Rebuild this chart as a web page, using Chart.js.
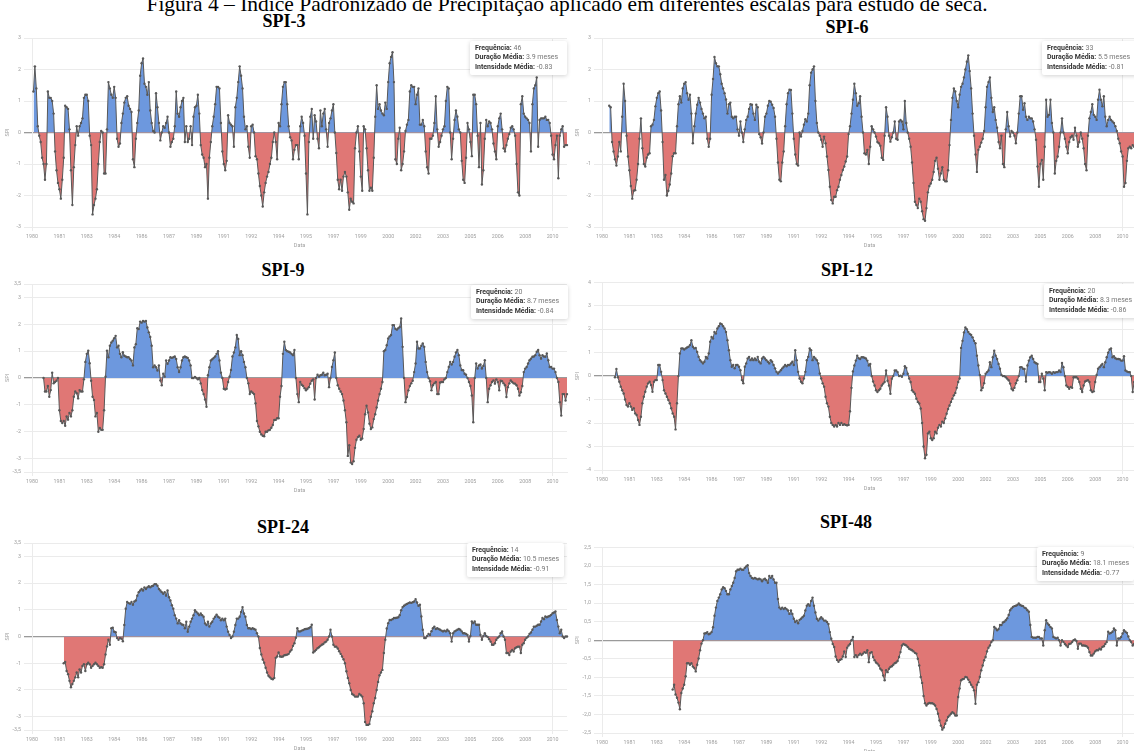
<!DOCTYPE html>
<html lang="pt-BR">
<head>
<meta charset="utf-8">
<title>SPI</title>
<script src="https://cdn.jsdelivr.net/npm/chart.js@4.4.1/dist/chart.umd.min.js"></script>
<style>
  html, body { margin: 0; padding: 0; background: #fff; }
  body { width: 1134px; height: 751px; position: relative; overflow: hidden; }
  .caption { position: absolute; left: 0; width: 1134px; top: -6px; text-align: center;
    font: 21.5px/21.5px "Liberation Serif", "Times New Roman", serif; color: #000; white-space: nowrap; }
  .title { position: absolute; width: 200px; margin-left: -100px; text-align: center;
    font: bold 18px/18px "Liberation Serif", "Times New Roman", serif; color: #000; }
  canvas { position: absolute; }
  .box { position: absolute; background: #fff; box-shadow: 0 1px 4px rgba(0,0,0,0.18);
    border-radius: 2px; padding: 3px 0 0 5px; box-sizing: border-box;
    font: 7px/9.4px Roboto, sans-serif; color: #777; white-space: nowrap; }
  .box b { color: #333; }
</style>
</head>
<body>
<div class="caption">Figura 4 – Índice Padronizado de Precipitação aplicado em diferentes escalas para estudo de seca.</div>
<script>
/* ================= DATA ================= */

const START_YEAR = 1980;
const N_MONTHS = 372;
const TICK_STEP = 19;

const labels = Array.from({ length: N_MONTHS }, (_, i) =>
  `${START_YEAR + Math.floor(i / 12)}-${String(i % 12 + 1).padStart(2, "0")}`);

/* y tick values of each chart */
const ticks3 = [-3, -2, -1, 0, 1, 2, 3];
const ticks35 = [-3.5, -3, -2, -1, 0, 1, 2, 3, 3.5];
const ticks4 = [-4, -3, -2, -1, 0, 1, 2, 3, 4];
const ticks25 = [-2.5, -2, -1.5, -1, -0.5, 0, 0.5, 1, 1.5, 2, 2.5];

/* series start after the accumulation window, leading months are empty */
const lead = (n, arr) => Array(n).fill(null).concat(arr);

const spi3 = lead(1, [
  1.3,2.1,1.4,0.2,-0.1,-0.3,-0.8,-1.0,-1.5,-1.0,
  1.3,1.1,1.1,1.0,0.6,-0.6,-1.2,-1.6,-1.8,-2.1,
  -1.5,-0.8,0.85,0.8,0.75,0.1,-1.2,-2.3,-1.1,-0.4,
  0.2,-0.1,0.2,0.3,0.45,1.1,1.2,1.2,1.0,-0.1,
  -0.4,-2.6,-2.3,-2.1,-1.8,-1.0,-0.3,0.05,0.0,-1.3,
  -1.3,0.1,1.6,1.4,1.2,1.1,1.45,1.1,-0.2,-0.45,
  -0.35,0.3,0.6,0.95,1.1,1.15,0.85,0.75,0.65,-0.85,
  -1.1,-0.2,0.3,0.7,1.8,2.2,2.35,1.55,1.45,1.2,
  1.6,0.7,0.3,0.05,0.0,1.25,0.8,0.3,-0.25,0.0,
  0.2,0.15,0.3,0.5,0.0,-0.45,-0.3,-0.2,0.2,1.3,
  0.6,0.5,0.8,1.0,1.1,-0.3,0.2,-0.3,-0.2,0.2,
  -0.4,0.5,0.8,0.85,1.2,0.6,-0.4,-0.7,-0.8,-1.1,
  -1.0,-2.1,-0.8,-0.3,0.2,0.5,0.9,1.45,1.45,1.4,
  0.3,-0.6,-1.0,-1.2,-0.9,0.55,0.3,0.25,0.2,-0.45,
  0.8,1.1,1.6,2.1,1.8,1.4,0.5,0.1,0.2,-0.45,
  -0.8,0.2,0.25,0.0,-0.75,-0.85,-1.3,-1.7,-2.0,-2.35,
  -1.9,-1.6,-1.4,-1.25,-1.0,-0.8,-0.3,0.0,-0.3,-0.85,
  0.3,0.2,0.9,1.45,1.6,1.6,0.9,0.2,-0.15,-0.25,
  -0.85,-0.55,-0.4,-0.4,-0.85,0.2,0.5,0.3,-0.1,-1.3,
  -2.6,-0.3,0.5,0.75,-0.2,0.55,0.35,-0.2,-0.5,0.7,
  0.2,0.6,0.75,0.1,-0.45,0.3,0.45,0.7,0.9,0.0,
  -0.65,-1.5,-1.8,-1.5,-1.85,-1.4,-1.25,-1.4,-1.9,-2.45,
  -2.1,-2.2,-2.25,-0.5,0.0,0.2,-0.6,-1.4,-1.85,0.2,
  0.1,-0.5,-1.2,-1.85,-1.75,-1.85,-0.8,0.5,1.5,0.75,
  0.9,0.7,0.6,0.55,0.95,0.75,1.6,2.2,2.4,2.55,
  1.6,-0.85,-1.0,-0.2,0.15,-1.2,-1.0,-0.6,0.05,0.25,
  0.4,1.3,1.5,1.45,1.45,0.9,1.2,1.4,0.25,0.25,
  0.4,0.2,-0.6,-1.1,-1.3,-0.2,-0.2,-0.1,0.3,1.15,
  0.1,-0.45,-0.3,-0.1,0.1,0.2,1.0,1.45,1.4,0.0,
  -0.85,-0.2,0.4,0.7,0.5,0.1,0.0,-0.9,-1.5,-1.6,
  -0.8,0.3,0.1,-0.3,-0.75,1.2,1.2,0.9,-0.1,-1.1,
  0.3,-1.65,-1.2,-0.2,0.4,0.2,0.35,0.3,0.1,-0.35,
  -0.6,-0.85,0.2,0.45,0.6,0.1,-0.5,-0.6,-0.4,-0.2,
  -0.05,0.15,0.2,0.1,-0.1,-1.0,-1.9,-2.0,0.9,1.15,
  0.6,0.5,0.45,0.4,0.3,-0.6,0.9,1.4,1.5,1.75,
  -0.45,0.4,0.45,0.45,0.45,0.5,0.4,0.4,0.3,-0.1,
  -0.7,-0.85,-0.4,-0.1,-1.45,-0.1,0.1,0.2,-0.45,-0.4,-0.4
]);

const spi6 = lead(5, [
  0.85,0.8,-0.3,-0.6,-0.85,-1.05,
  -0.76,-0.3,-0.6,0.5,1.55,1.0,-0.1,-0.76,-1.2,-1.7,
  -2.1,-1.85,-1.83,-1.5,-1.0,-0.2,0.45,-0.5,-1.0,-1.08,
  -0.8,-0.7,-0.66,0.2,0.25,0.4,0.83,1.1,1.25,1.3,
  0.7,-0.3,-1.5,-1.35,-2.0,-1.85,-1.65,-1.3,-0.75,-0.66,
  -0.66,0.2,0.9,1.15,0.95,1.4,1.55,1.6,1.25,1.04,
  1.2,0.6,-0.34,0.2,0.6,0.88,1.1,0.95,0.75,0.6,
  0.45,0.5,-0.2,-0.45,-0.2,1.2,1.7,2.4,2.2,2.1,
  2.1,1.85,1.55,1.4,1.25,1.05,0.6,0.9,0.95,0.5,
  0.45,0.5,0.5,0.1,-0.1,0.35,0.0,-0.3,0.1,0.4,
  0.5,0.75,0.9,0.88,0.6,0.4,0.88,0.8,-0.05,-0.15,
  -0.35,0.0,0.5,0.6,0.85,1.0,0.98,0.88,0.78,0.5,
  -0.2,-0.95,-1.5,-1.55,-0.95,-0.6,0.2,0.9,1.25,1.36,
  1.35,0.6,-0.2,-0.7,-1.0,-1.05,0.0,-0.13,0.05,0.25,
  0.42,0.35,0.6,1.5,1.9,2.0,2.1,1.0,0.3,0.0,
  -0.1,-0.23,-0.45,-0.13,-0.34,-0.76,-1.19,-1.72,-2.14,-2.25,
  -2.04,-2.04,-1.83,-1.72,-1.5,-1.35,-1.19,-1.08,-0.92,-0.76,
  -0.05,0.2,0.6,1.04,1.55,1.25,0.85,0.93,1.15,0.5,
  0.0,-0.66,-0.7,-0.55,-1.0,-0.45,0.2,0.1,0.0,-0.13,
  -0.3,-0.34,-0.42,-0.8,-0.87,-0.1,0.8,0.5,-0.1,-0.29,
  -0.15,0.0,0.35,-0.2,-0.23,0.35,0.4,0.35,0.1,1.0,
  0.3,0.0,-0.2,-0.45,-0.95,-1.6,-2.2,-2.3,-2.4,-2.1,
  -2.2,-2.5,-2.75,-2.8,-2.4,-1.9,-1.7,-1.62,-1.5,-1.25,
  -0.9,-0.8,-1.15,-1.5,-1.3,-1.1,-1.5,-1.55,-1.55,-1.2,
  -0.4,0.4,1.1,1.4,1.3,1.0,0.8,1.2,1.45,1.55,
  1.75,2.0,2.25,2.45,1.95,1.4,0.6,-0.1,-0.7,-1.25,
  -0.55,-0.45,-0.32,-0.2,0.05,0.8,1.45,1.6,1.75,1.1,
  0.65,0.8,0.4,0.15,-0.3,-0.5,-0.1,-1.0,-1.1,0.1,
  0.65,0.2,-0.13,0.05,0.0,-0.1,-0.34,0.0,0.6,1.15,
  1.15,0.72,0.93,0.5,0.4,0.5,0.45,0.45,0.35,0.1,
  -0.23,-1.08,-1.72,-1.0,-0.87,-1.5,-0.45,1.04,0.5,0.56,
  1.04,0.3,0.0,-1.3,-0.9,-0.76,-0.45,0.0,0.45,0.0,
  -0.2,-0.45,-0.66,-0.3,-0.15,-0.1,-0.23,0.15,-0.1,-0.45,
  -0.3,0.0,-0.2,-0.5,-1.0,-1.2,-0.1,0.45,0.65,0.9,
  0.56,0.5,0.4,1.04,1.36,1.04,0.83,1.15,0.5,0.2,
  0.4,0.5,0.4,0.35,0.3,0.2,0.05,-0.2,-0.34,-0.6,
  -0.76,-1.72,-1.6,-0.9,-0.5,-0.45,-0.5,-0.4,-0.45,-0.4,-0.4
]);

const spi9 = lead(8, [
  0,-0.5,-0.5,-0.3,-0.7,-0.45,0.2,-0.2,-0.15,-0.1,0,-1.2,-1.6,
  -1.68,-1.6,-1.78,-1.43,-1.55,-1.3,-1.43,-1.2,-0.7,-0.5,
  -0.57,-0.76,-0.45,-0.5,-0.5,-0.05,0.6,0.9,1.02,0.55,
  -0.1,-0.7,-0.82,-1.43,-1.3,-2.0,-1.86,-1.93,-1.93,-1.2,
  0.05,1.02,0.77,1.2,1.32,1.39,1.48,1.57,1.14,1.2,
  0.9,0.77,0.96,0.83,0.8,0.77,0.77,0.71,0.65,0.47,
  1.14,1.26,1.85,1.82,2.1,2.06,2.12,2.1,2.12,1.88,
  1.7,1.53,1.2,0.4,0.47,0.4,0.28,0.47,-0.09,-0.27,
  0.16,0.05,0.65,0.53,0.65,0.77,0.75,0.77,0.8,0.71,
  0.4,0.22,0.4,0.65,0.77,0.8,0.77,0.75,0.65,0.47,
  0.0,0.0,0.04,0.0,-0.05,0.0,-0.2,-0.45,-0.6,-0.8,
  -1.07,0.1,0.4,0.65,0.7,0.75,0.8,0.9,1.0,0.65,
  0.2,0.0,-0.4,-0.43,-0.4,-0.15,0.05,0.3,0.8,0.95,
  1.14,1.6,1.45,0.85,1.0,0.85,0.6,0.4,0.0,-0.2,
  -0.6,-0.5,-0.55,-0.6,-0.94,-1.6,-1.8,-2.0,-2.1,-2.15,
  -2.17,-2.0,-2.0,-1.95,-1.93,-1.85,-1.75,-1.56,-1.56,-1.5,
  -1.5,-0.7,-0.3,0.9,1.35,1.04,1.0,0.98,0.95,0.9,
  0.85,1.04,0.0,-0.6,-0.9,-0.15,-0.25,-0.3,-0.38,-0.46,
  -0.4,-0.34,-0.21,-0.1,-0.05,-0.8,0.0,0.12,0.05,0.1,
  0.12,0.2,0.1,0.12,0.16,-0.34,0.0,0.41,0.66,0.95,
  0.0,-0.27,-0.4,-0.5,-0.6,-0.84,-1.2,-1.65,-2.9,-2.5,
  -3.15,-3.2,-3.1,-2.6,-2.3,-2.2,-2.15,-2.3,-2.25,-1.9,
  -1.35,-1.03,-1.28,-1.7,-1.9,-1.84,-1.53,-1.35,-1.1,-0.84,
  -0.6,-0.4,-0.15,1.0,1.04,1.22,1.47,1.55,1.6,1.97,
  1.97,1.83,1.8,1.85,1.9,2.22,1.16,0.0,-0.9,-0.71,
  -0.46,-0.3,-0.2,-0.1,0.22,0.54,1.35,1.1,1.1,1.2,
  1.29,1.16,0.6,0.22,0.0,-0.12,-0.46,-0.27,-0.2,-0.15,
  -0.6,-0.6,-0.17,-0.15,-0.15,-0.05,0.0,0.22,0.41,0.6,
  0.5,0.6,0.79,0.95,1.04,0.85,0.47,0.3,0.29,0.16,
  0.12,0.0,-0.15,-0.3,-0.65,-1.65,0.0,0.54,0.35,0.47,
  0.5,0.35,0.45,0.66,0.0,-0.9,-0.4,-0.27,-0.15,-0.09,
  -0.21,-0.05,-0.15,-0.46,-0.1,-0.12,-0.2,-0.27,-0.71,-0.34,
  -0.2,-0.09,-0.15,-0.2,-0.21,-0.27,-0.4,-0.65,-0.53,-0.3,
  0.22,0.35,0.41,0.54,0.66,0.72,0.79,0.8,0.85,0.98,
  1.04,0.85,0.72,0.85,0.8,0.79,0.91,0.66,0.41,0.41,
  0.35,0.35,0.22,0.0,-0.15,-0.9,-1.4,-0.6,-0.6,-0.84,-0.6
]);

const spi12 = lead(9, [
  -0.05,0.3,-0.05,-0.24,-0.45,-0.6,-0.74,-1.0,-1.23,-1.3,-1.16,-1.3,
  -1.44,-1.37,-1.59,-1.66,-1.87,-2.08,-1.73,-1.16,-0.88,-0.67,
  -0.45,-0.31,-0.24,-0.38,-0.67,-0.24,-0.17,-0.17,0.47,0.47,
  0.18,-0.17,-0.6,-0.74,-0.88,-1.02,-1.16,-1.37,-1.59,-1.73,
  -2.27,-1.16,0.0,0.96,1.18,1.18,1.13,1.18,1.22,1.25,
  1.32,1.53,1.25,1.18,1.2,1.03,0.82,0.68,0.61,0.54,
  0.61,0.82,0.75,0.96,1.46,1.67,1.6,1.88,1.81,2.03,
  2.12,2.24,2.21,2.12,2.03,1.88,1.53,1.1,0.68,0.4,
  0.47,0.33,0.47,0.47,0.4,0.25,-0.17,-0.31,0.4,0.54,
  0.75,0.82,0.68,0.75,0.68,0.75,0.68,0.82,0.61,0.54,
  0.75,0.82,0.75,0.68,0.61,0.54,0.68,0.61,0.47,0.33,
  0.18,0.11,0.18,0.25,0.33,0.4,0.47,0.42,0.47,0.47,
  0.54,0.61,0.47,1.1,0.68,0.18,-0.1,-0.24,-0.31,-0.1,
  0.18,0.68,0.82,1.18,1.1,0.68,0.82,0.75,0.68,0.54,
  0.11,-0.1,-0.31,-0.45,-0.88,-1.16,-1.3,-1.73,-2.0,-2.08,
  -2.15,-2.08,-2.15,-2.0,-2.08,-2.0,-2.08,-2.05,-2.08,-2.1,
  -2.08,-1.5,-0.5,0.2,0.45,0.66,0.87,0.76,0.73,0.8,
  0.8,0.78,0.75,0.66,0.45,0.52,0.0,-0.23,-0.4,-0.6,
  -0.68,-0.6,-0.54,-0.4,-0.32,-0.25,0.24,-0.2,-0.4,-0.75,
  -0.11,0.0,0.24,0.24,0.17,0.0,0.02,-0.03,0.1,0.42,
  0.35,0.1,-0.1,-0.25,-0.6,-0.68,-0.75,-0.96,-1.1,-1.17,
  -1.38,-2.0,-3.0,-3.5,-3.35,-2.44,-2.37,-2.65,-2.72,-2.65,
  -2.37,-2.44,-2.2,-2.08,-2.15,-1.94,-2.0,-1.8,-1.6,-1.4,
  -1.25,-1.1,-0.96,-0.82,-0.72,-0.5,-0.25,-0.1,1.2,1.5,
  1.86,2.07,2.0,1.88,1.8,1.75,1.65,1.5,1.4,0.87,
  0.45,0.05,-0.6,-0.5,-0.3,0.1,0.17,0.24,0.59,0.38,
  0.8,1.08,0.87,0.73,0.52,0.31,0.05,0.0,0.0,-0.05,
  -0.11,-0.18,-0.32,-0.54,-0.6,-0.5,-0.3,-0.18,0.0,0.38,
  0.38,0.31,0.3,-0.23,0.45,0.66,0.8,0.87,0.73,0.59,
  0.55,0.52,-0.25,-0.25,0.1,-0.11,-0.6,0.17,0.14,0.17,
  0.15,0.1,0.17,0.14,0.17,0.17,0.24,0.17,0.56,0.38,
  0.0,-0.4,-0.46,-0.54,-0.46,-0.5,-0.05,-0.05,-0.05,-0.11,
  -0.25,-0.54,-0.68,-0.4,-0.23,-0.2,-0.18,-0.25,-0.6,-0.68,
  -0.65,-0.25,0.05,0.31,0.38,0.45,0.52,0.38,0.59,0.8,
  1.0,1.13,1.18,0.8,0.85,0.76,0.73,0.73,0.72,0.66,
  0.66,0.85,0.24,0.2,0.17,0.17,0.0,-0.68,-0.25,-0.3,-0.4
]);

const spi24 = lead(22, [
  -1.0,-0.95,-1.29,-1.41,-1.66,-1.9,-1.78,-1.66,-1.53,
  -1.35,-1.53,-1.23,-1.35,-1.1,-1.04,-1.29,-1.04,-0.98,-1.04,
  -1.17,-1.1,-1.04,-0.98,-1.04,-1.1,-1.17,-1.15,-1.17,-1.04,
  -0.67,-0.37,-0.12,-0.31,0.31,0.33,0.18,0.16,-0.06,-0.12,
  -0.06,-0.08,-0.18,0.43,1.04,1.29,1.25,1.23,1.29,1.19,
  1.31,1.35,1.53,1.66,1.72,1.78,1.72,1.84,1.78,1.84,
  1.88,1.84,1.88,1.9,1.96,1.96,1.9,1.78,1.72,1.66,
  1.6,1.66,1.53,1.72,1.47,1.35,1.17,1.04,0.8,0.67,
  0.49,0.61,0.49,0.45,0.43,0.31,0.55,0.18,0.37,0.55,
  0.67,0.8,0.98,0.92,0.86,0.8,0.86,0.8,0.74,0.49,
  0.43,0.55,0.37,0.49,0.55,0.67,0.74,0.82,0.74,0.7,
  0.61,0.67,0.61,0.67,0.37,0.18,0.06,-0.06,0.0,0.18,
  0.43,0.67,0.67,0.74,0.92,1.1,0.86,0.74,0.43,0.31,
  0.31,0.28,0.31,0.28,0.25,0.12,0.0,-0.43,-0.67,-0.86,
  -0.98,-1.17,-1.35,-1.47,-1.53,-1.58,-1.6,-1.55,-0.8,-0.75,
  -0.6,-0.75,-0.76,-0.75,-0.7,-0.69,-0.68,-0.65,-0.56,-0.5,
  -0.35,-0.25,-0.05,0.31,0.19,0.19,0.22,0.24,0.27,0.28,
  0.29,0.31,0.35,0.44,-0.6,-0.55,-0.5,-0.44,-0.4,-0.35,
  -0.31,-0.28,-0.22,-0.19,-0.12,0.0,0.25,0.0,-0.31,-0.38,
  -0.38,-0.45,-0.55,-0.65,-0.75,-0.85,-1.0,-1.3,-1.55,-1.75,
  -2.0,-2.15,-2.19,-2.25,-2.25,-2.25,-2.15,-2.2,-2.25,-2.5,
  -3.2,-3.31,-3.31,-3.28,-3.0,-2.8,-2.5,-2.3,-2.0,-1.7,
  -1.45,-1.35,-1.25,-0.62,-0.12,0.3,0.5,0.62,0.62,0.65,
  0.69,0.69,0.7,0.72,0.8,0.98,1.1,1.15,1.19,1.22,
  1.25,1.27,1.26,1.28,1.31,1.4,1.27,1.15,1.19,0.75,
  0.25,-0.06,-0.06,0.02,0.1,0.06,0.2,0.31,0.37,0.28,
  0.31,0.28,0.25,0.22,0.19,0.22,0.19,0.25,0.2,0.12,
  -0.19,0.12,0.19,0.22,0.25,0.28,0.25,0.19,0.12,0.12,
  0.1,0.06,-0.19,0.02,0.56,0.5,0.56,0.44,0.44,0.44,
  0.06,-0.12,0.02,0.12,0.02,-0.02,-0.1,-0.19,-0.31,-0.31,
  -0.25,-0.12,-0.05,0.0,0.12,0.19,0.0,-0.12,-0.62,-0.62,
  -0.69,-0.56,-0.5,-0.56,-0.44,-0.4,-0.38,-0.38,-0.62,-0.31,
  -0.25,-0.12,-0.05,0.0,0.1,0.15,0.25,0.37,0.37,0.4,
  0.44,0.44,0.56,0.69,0.65,0.75,0.72,0.75,0.77,0.81,
  0.87,0.9,0.94,0.62,0.37,0.12,0.25,0.0,-0.06,0.0,0.0
]);

const spi48 = lead(49, [
  -1.33,-1.2,
  -1.46,-1.55,-1.68,-1.86,-1.42,-1.3,-1.2,-0.97,-0.62,-0.62,
  -0.66,-0.62,-0.71,-0.75,-0.84,-0.66,-0.49,-0.27,-0.09,0.0,
  0.18,0.19,0.22,0.16,0.18,0.22,0.35,0.66,0.88,1.06,
  1.15,1.24,1.37,1.43,1.4,1.33,1.24,1.24,1.37,1.46,
  1.55,1.68,1.86,1.9,1.9,1.93,1.9,1.9,1.95,1.99,
  2.02,1.81,1.73,1.68,1.66,1.68,1.66,1.64,1.66,1.64,
  1.59,1.64,1.66,1.62,1.55,1.73,1.68,1.73,1.64,1.55,
  1.55,1.11,0.88,0.84,0.88,0.84,0.87,0.84,0.8,0.71,
  0.8,0.71,0.58,0.49,0.53,0.46,0.55,0.58,0.62,0.66,
  0.8,0.93,0.97,0.93,1.06,1.15,0.93,0.75,0.58,0.53,
  0.58,0.62,0.58,0.53,0.53,0.49,0.44,0.22,0.04,-0.1,
  -0.18,-0.44,-0.53,-0.58,-0.53,-0.51,-0.44,-0.3,-0.45,-0.2,
  -0.14,-0.1,0.0,0.09,-0.45,-0.4,-0.45,-0.4,-0.36,-0.4,
  -0.36,-0.32,-0.34,-0.27,-0.59,-0.34,-0.32,-0.45,-0.54,-0.6,
  -0.63,-0.68,-0.77,-0.81,-0.95,-1.08,-0.81,-0.86,-0.77,-0.72,
  -0.7,-0.66,-0.62,-0.6,-0.56,-0.45,-0.32,-0.14,-0.1,-0.12,
  -0.14,-0.18,-0.23,-0.25,-0.27,-0.3,-0.34,-0.36,-0.5,-0.68,
  -0.99,-1.15,-1.5,-1.7,-1.76,-1.71,-1.69,-1.7,-1.7,-1.72,
  -1.76,-1.85,-1.98,-2.16,-2.3,-2.41,-2.35,-2.25,-2.16,-2.07,
  -2.03,-1.98,-1.94,-1.97,-2.03,-2.03,-1.53,-1.3,-1.08,-1.05,
  -1.04,-0.99,-1.0,-1.06,-1.13,-1.2,-1.26,-1.35,-1.71,-1.2,
  -1.13,-0.99,-0.81,-0.68,-0.54,-0.45,-0.3,-0.2,-0.14,-0.05,
  0.0,0.36,0.32,0.27,0.3,0.41,0.41,0.48,0.5,0.54,
  0.59,0.68,0.81,0.86,0.9,0.92,0.93,0.95,0.99,0.95,
  0.93,0.92,0.88,0.86,0.81,0.77,0.41,0.09,0.07,0.07,
  0.07,0.09,0.09,0.05,0.05,-0.14,0.27,0.54,0.45,0.41,
  0.36,0.32,0.09,0.07,0.05,0.07,0.0,-0.14,0.0,-0.05,
  -0.1,-0.14,-0.18,-0.1,-0.09,-0.05,0.0,0.02,-0.02,-0.23,
  -0.09,-0.09,-0.14,-0.14,-0.15,-0.16,-0.2,-0.32,-0.41,-0.41,
  -0.36,-0.3,-0.27,-0.27,-0.23,-0.25,-0.18,-0.16,-0.1,-0.05,
  0.23,0.18,0.2,0.23,0.32,0.27,-0.14,0.05,0.05,0.09,
  0.18,0.27,0.23,0.2,0.1,0.0,-0.05,-0.14,-0.1,-0.1,-0.08
]);

/* drought statistics shown in each chart's box */
const boxFreq = [46, 33, 20, 20, 14, 9];
const boxDur = ["3.9", "5.5", "8.7", "8.3", "10.5", "18.1"];
const boxInt = ["-0.83", "-0.81", "-0.84", "-0.86", "-0.91", "-0.77"];

/* ================= LAYOUT ================= */

const BLUE = "#6d98de";
const RED = "#e07775";
const LINE = "#585858";
const GRID = "#ebebeb";
const TICK = "#a0a0a0";

const panels = [
  { name: "SPI-3",  data: spi3,  ticks: ticks3,  x: 0,   y: 28,  h: 225, pad: 10,  tx: 284, ty: 21,  bx: 470,  by: 41 },
  { name: "SPI-6",  data: spi6,  ticks: ticks3,  x: 570, y: 28,  h: 225, pad: 10,  tx: 847, ty: 27,  bx: 1042, by: 41 },
  { name: "SPI-9",  data: spi9,  ticks: ticks35, x: 0,   y: 276, h: 222, pad: 8,   tx: 283, ty: 270, bx: 471,  by: 285 },
  { name: "SPI-12", data: spi12, ticks: ticks4,  x: 570, y: 276, h: 220, pad: 5,   tx: 847, ty: 270, bx: 1044, by: 284 },
  { name: "SPI-24", data: spi24, ticks: ticks35, x: 0,   y: 536, h: 220, pad: 7,   tx: 283, ty: 527, bx: 467,  by: 543 },
  { name: "SPI-48", data: spi48, ticks: ticks25, x: 570, y: 540, h: 219, pad: 7.5, tx: 846, ty: 522, bx: 1037, by: 547 },
];

Chart.defaults.font.family = "Roboto, 'Liberation Sans', sans-serif";

/* ================= CHARTS ================= */

function buildPanel(p, k) {
  const title = document.createElement("div");
  title.className = "title";
  title.textContent = p.name;
  title.style.left = p.tx + "px";
  title.style.top = (p.ty - 9) + "px";
  document.body.appendChild(title);

  const canvas = document.createElement("canvas");
  canvas.width = 572;
  canvas.height = p.h;
  canvas.style.left = p.x + "px";
  canvas.style.top = p.y + "px";
  document.body.appendChild(canvas);

  const yTicks = p.ticks;

  new Chart(canvas, {
    type: "line",
    data: {
      labels,
      datasets: [{
        data: p.data,
        borderColor: LINE,
        borderWidth: 1,
        pointRadius: 1.2,
        pointBorderWidth: 0,
        pointBackgroundColor: LINE,
        tension: 0,
        fill: { target: "origin", above: BLUE, below: RED },
      }],
    },
    options: {
      responsive: false,
      animation: false,
      locale: "pt-BR",
      layout: { padding: { top: p.pad, right: 5, left: 0, bottom: 0 } },
      plugins: { legend: { display: false }, tooltip: { enabled: false } },
      scales: {
        x: {
          grid: {
            color: ctx => (ctx.index % TICK_STEP === 0 ? GRID : "transparent"),
            tickLength: 4,
          },
          border: { color: GRID },
          ticks: {
            autoSkip: false,
            maxRotation: 0,
            padding: 2,
            color: TICK,
            font: { size: 5.3 },
            callback: (v, i) => (i % TICK_STEP === 0 ? labels[i].slice(0, 4) : null),
          },
          title: { display: true, text: "Data", color: TICK, font: { size: 5.5 } },
          afterFit: s => { s.height = 26; },
        },
        y: {
          min: yTicks[0],
          max: yTicks[yTicks.length - 1],
          afterBuildTicks: s => { s.ticks = yTicks.map(v => ({ value: v })); },
          grid: {
            color: ctx => (ctx.tick && ctx.tick.value === 0 ? "#9a9a9a" : GRID),
            lineWidth: ctx => (ctx.tick && ctx.tick.value === 0 ? 1.3 : 1),
          },
          border: { color: GRID },
          ticks: { color: TICK, font: { size: 5.3 } },
          title: { display: true, text: "SPI", color: TICK, font: { size: 5.5 } },
          afterFit: s => { s.width = 32; },
        },
      },
    },
  });

  const box = document.createElement("div");
  box.className = "box";
  box.style.left = p.bx + "px";
  box.style.top = p.by + "px";
  box.style.width = "97px";
  box.style.height = "34px";
  box.innerHTML =
    `<div><b>Frequência:</b> ${boxFreq[k]}</div>` +
    `<div><b>Duração Média:</b> ${boxDur[k]} meses</div>` +
    `<div><b>Intensidade Média:</b> ${boxInt[k]}</div>`;
  document.body.appendChild(box);
}

panels.forEach(buildPanel);
</script>
</body>
</html>
